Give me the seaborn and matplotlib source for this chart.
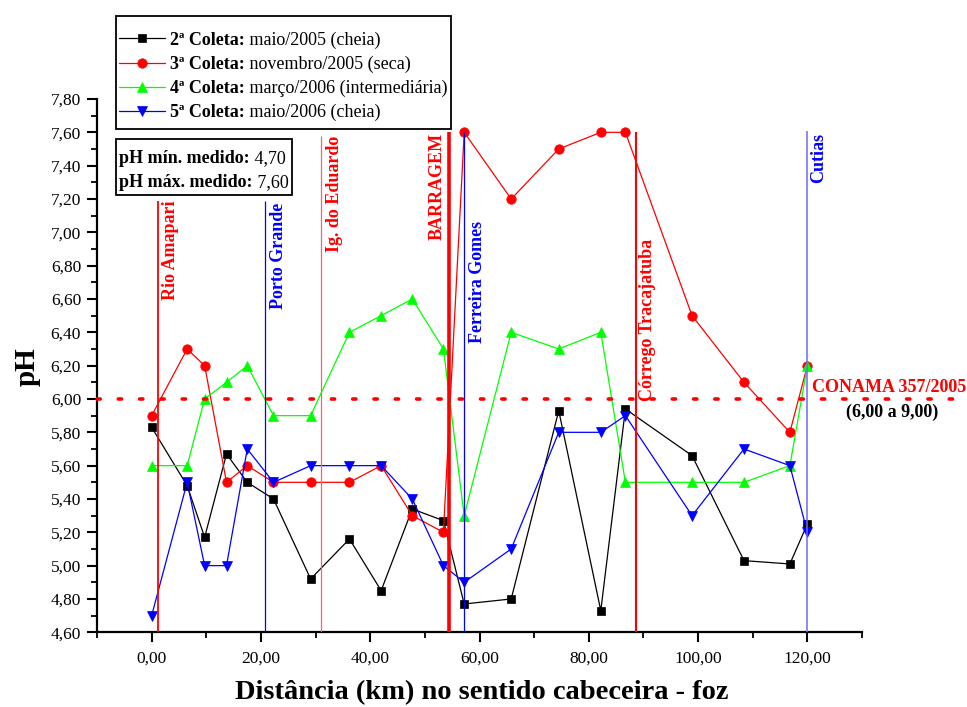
import matplotlib
matplotlib.use("Agg")
import matplotlib.pyplot as plt
from matplotlib.ticker import MultipleLocator, FuncFormatter
from matplotlib.offsetbox import (AnchoredOffsetbox, HPacker, VPacker,
                                  TextArea, DrawingArea)
from matplotlib.lines import Line2D
import seaborn as sns

# Distância de cada estação de coleta (km, sentido cabeceira -> foz)
distancia_km = [0.0, 6.5, 9.7, 13.7, 17.5, 22.3, 29.1, 36.2, 42.0, 47.7,
                53.4, 57.2, 65.8, 74.5, 82.2, 86.7, 98.9, 108.4, 116.8, 120.0]

# pH medido em cada campanha
ph_coleta2 = [5.83, 5.48, 5.17, 5.67, 5.50, 5.40, 4.92, 5.16, 4.85, 5.34,
              5.27, 4.77, 4.80, 5.93, 4.73, 5.94, 5.66, 5.03, 5.01, 5.25]
ph_coleta3 = [5.90, 6.30, 6.20, 5.50, 5.60, 5.50, 5.50, 5.50, 5.60, 5.30,
              5.20, 7.60, 7.20, 7.50, 7.60, 7.60, 6.50, 6.10, 5.80, 6.20]
ph_coleta4 = [5.60, 5.60, 6.00, 6.10, 6.20, 5.90, 5.90, 6.40, 6.50, 6.60,
              6.30, 5.30, 6.40, 6.30, 6.40, 5.50, 5.50, 5.50, 5.60, 6.20]
ph_coleta5 = [4.70, 5.50, 5.00, 5.00, 5.70, 5.50, 5.60, 5.60, 5.60, 5.40,
              5.00, 4.90, 5.10, 5.80, 5.80, 5.90, 5.30, 5.70, 5.60, 5.20]

coleta_titulo = ["2ª Coleta:", "3ª Coleta:", "4ª Coleta:", "5ª Coleta:"]
coleta_periodo = ["maio/2005 (cheia)", "novembro/2005 (seca)",
                  "março/2006 (intermediária)", "maio/2006 (cheia)"]

# Pontos de referência ao longo do rio
marco_nome = ["Rio Amapari", "Porto Grande", "Ig. do Eduardo", "BARRAGEM",
              "Ferreira Gomes", "Córrego Tracajatuba", "Cutias"]
marco_km = [1.2, 20.8, 31.0, 54.4, 57.2, 88.6, 120.0]

# Limite CONAMA 357/2005
conama_min = 6.00
conama_faixa = "(6,00 a 9,00)"

# ---------------------------------------------------------------- estilo
sns.set_theme(style="ticks")
plt.rcParams.update({
    "font.family": ["Liberation Serif", "DejaVu Serif"],
    "axes.edgecolor": "black",
    "xtick.color": "black",
    "ytick.color": "black",
    "text.color": "black",
    "axes.labelcolor": "black",
})

W, H = 967, 707
fig = plt.figure(figsize=(W / 100, H / 100), dpi=100)
ax = fig.add_axes([97 / W, 1 - 632.3 / H, (862 - 97) / W, (632.3 - 99) / H])

serie_ph = [ph_coleta2, ph_coleta3, ph_coleta4, ph_coleta5]
serie_cor = ["black", "#ff0000", "#00ff00", "#0000ff"]
serie_marcador = ["s", "o", "^", "v"]
serie_tam = [6.2, 6.8, 7.2, 7.2]

for vals, cor, mk, ms in zip(serie_ph, serie_cor, serie_marcador, serie_tam):
    sns.lineplot(x=distancia_km, y=vals, ax=ax, color=cor, marker=mk,
                 markersize=ms, markeredgecolor=cor, markeredgewidth=0.5,
                 linewidth=0.9, zorder=2)
if ax.get_legend() is not None:
    ax.get_legend().remove()

# Linhas verticais dos marcos
marco_cor_linha = ["#ff0000", "#0000ff", "#ff6060", "#ff0000", "#0000ff", "#ff0000", "#6a6aff"]
marco_cor_texto = ["#ff0000", "#0000ff", "#ff0000", "#ff0000", "#0000ff", "#ff0000", "#0000ff"]
marco_lw = [1.3, 0.9, 0.9, 2.6, 0.9, 1.5, 1.1]
marco_topo = [7.19, 7.19, 7.58, 7.60, 7.60, 7.60, 7.61]
marco_texto_km = [3.4, 23.3, 33.4, 52.3, 59.7, 90.8, 122.1]
marco_texto_topo = [7.19, 7.175, 7.58, 7.595, 7.07, 6.96, 7.595]
for nome, km, cl, ct, lw, topo, tx, ty in zip(marco_nome, marco_km, marco_cor_linha,
                                             marco_cor_texto, marco_lw, marco_topo,
                                             marco_texto_km, marco_texto_topo):
    ax.vlines(km, 4.6, topo, color=cl, linewidth=lw, zorder=3)
    ax.text(tx, ty, nome, rotation=90, ha="center", va="top", color=ct,
            fontsize=13, fontweight="bold", zorder=4)

# Linha do limite mínimo CONAMA
ax.plot([-10, 150], [conama_min, conama_min], color="#ff0000", linewidth=2.6,
        linestyle=(0, (0.9, 5.0)), dash_capstyle="round", clip_on=False, zorder=3)

# ---------------------------------------------------------------- eixos
ax.set_xlim(-10, 130)
ax.set_ylim(4.6, 7.8)
ax.set_xlabel("")
ax.set_ylabel("")
sns.despine(ax=ax)
for s in ("left", "bottom"):
    ax.spines[s].set_linewidth(1.6)

ax.xaxis.set_major_locator(MultipleLocator(20))
ax.xaxis.set_minor_locator(MultipleLocator(10))
ax.yaxis.set_major_locator(MultipleLocator(0.2))
ax.yaxis.set_minor_locator(MultipleLocator(0.1))
virgula = FuncFormatter(lambda v, p: f"{v:.2f}".replace(".", ","))
ax.xaxis.set_major_formatter(virgula)
ax.yaxis.set_major_formatter(virgula)
ax.tick_params(which="major", direction="out", length=7.5, width=1.5, labelsize=12.5)
ax.tick_params(which="minor", direction="out", length=4, width=1.3)
ax.tick_params(axis="x", which="major", pad=6)
ax.tick_params(axis="y", which="major", pad=4)

fig.text(482 / W, 1 - 693 / H, "Distância (km) no sentido cabeceira - foz",
         ha="center", va="center", fontsize=20.5, fontweight="bold")
fig.text(27 / W, 1 - 367 / H, "pH", rotation=90, ha="center", va="center",
         fontsize=21, fontweight="bold")

# Texto do limite CONAMA
fig.text(812 / W, 1 - 388 / H, "CONAMA 357/2005", ha="left", va="center",
         fontsize=13, fontweight="bold", color="#ff0000")
fig.text(846 / W, 1 - 412 / H, conama_faixa, ha="left", va="center",
         fontsize=13, fontweight="bold", color="black")

# ---------------------------------------------------------------- legenda
FS = 13


def linha_texto(negrito, normal):
    """Uma linha de texto com a primeira parte em negrito."""
    tb = TextArea(negrito, textprops=dict(fontsize=FS, fontweight="bold"))
    tr = TextArea(" " + normal, textprops=dict(fontsize=FS))
    return HPacker(children=[tb, tr], align="baseline", pad=0, sep=0)


def caixa(linhas, x, y, sep, topo, base):
    corpo = VPacker(children=linhas, align="left", pad=0, sep=sep)
    vp = VPacker(children=[DrawingArea(1, topo, 0, 0), corpo,
                           DrawingArea(1, base, 0, 0)],
                 align="left", pad=0, sep=0)
    box = AnchoredOffsetbox(loc="upper left", child=vp, pad=0.22, borderpad=0,
                            frameon=True, bbox_to_anchor=(x / W, 1 - y / H),
                            bbox_transform=fig.transFigure)
    box.patch.set_edgecolor("black")
    box.patch.set_linewidth(1.3)
    box.patch.set_facecolor("white")
    box.set_zorder(6)
    fig.add_artist(box)


rows = []
for cor, mk, ms, t, p in zip(serie_cor, serie_marcador, serie_tam,
                             coleta_titulo, coleta_periodo):
    da = DrawingArea(33, 4.4, 0, 0)
    da.add_artist(Line2D([0, 33], [4.4, 4.4], color=cor, linewidth=0.9))
    da.add_artist(Line2D([16.5], [4.4], color=cor, marker=mk, markersize=ms,
                         markeredgecolor=cor, markeredgewidth=0.5, linestyle="none"))
    rows.append(HPacker(children=[da, linha_texto(t, p)], align="baseline",
                        pad=0, sep=3.5))
caixa(rows, 116, 16, sep=5.0, topo=8.6, base=3.0)

# Caixa com pH mínimo e máximo medidos
todos = ph_coleta2 + ph_coleta3 + ph_coleta4 + ph_coleta5
ph_min = min(todos)
ph_max = max(todos)
txt_rows = [
    linha_texto("pH mín. medido:", f"{ph_min:.2f}".replace(".", ",")),
    linha_texto("pH máx. medido:", f"{ph_max:.2f}".replace(".", ",")),
]
caixa(txt_rows, 116, 139, sep=5.0, topo=5.6, base=0.3)

fig.savefig("out.png", dpi=100)
